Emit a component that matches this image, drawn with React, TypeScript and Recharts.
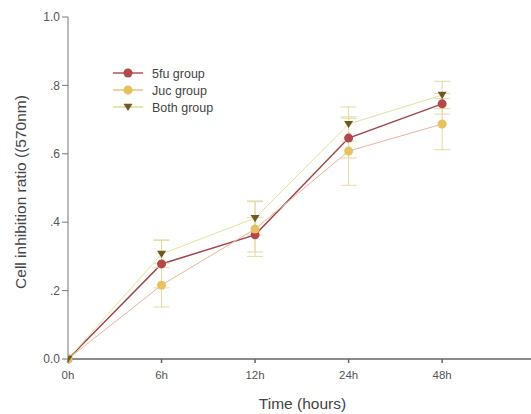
import {
  ErrorBar,
  Line,
  LineChart,
  XAxis,
  YAxis,
} from "recharts";

const hours = ["0h", "6h", "12h", "24h", "48h"];
const fuMean = [0, 0.278, 0.363, 0.646, 0.746];
const fuErr = [0, 0.07, 0.05, 0.058, 0.03];
const jucMean = [0, 0.216, 0.38, 0.608, 0.687];
const jucErr = [0, 0.064, 0.08, 0.1, 0.075];
const bothMean = [0, 0.307, 0.412, 0.687, 0.772];
const bothErr = [0, 0.04, 0.05, 0.05, 0.04];
const yTicks = [0, 0.2, 0.4, 0.6, 0.8, 1.0];

const data = hours.map((h, i) => ({
  idx: i,
  hour: h,
  fu: fuMean[i],
  fuErr: fuErr[i],
  juc: jucMean[i],
  jucErr: jucErr[i],
  both: bothMean[i],
  bothErr: bothErr[i],
}));

const font = "'Liberation Sans', Arial, sans-serif";
const textColor = "#555";
const errColor = "#e8d9a2";

const series = [
  { key: "fu", name: "5fu group", line: "#a3434b", legLine: "#b5505a", mark: "#b2474c", shape: "circle", width: 1.5 },
  { key: "juc", name: "Juc group", line: "#eab29a", legLine: "#e8c27a", mark: "#e6c160", shape: "circle", width: 1 },
  { key: "both", name: "Both group", line: "#dfe49a", legLine: "#d9e08e", mark: "#6e5a22", shape: "triangle", width: 1 },
];

function Marker({ cx, cy, shape, color }: { cx: number; cy: number; shape: string; color: string }) {
  if (shape === "triangle") {
    const s = 4.5;
    return (
      <path
        d={`M${cx - s},${cy - s * 0.7} L${cx + s},${cy - s * 0.7} L${cx},${cy + s * 0.9} Z`}
        fill={color}
      />
    );
  }
  return <circle cx={cx} cy={cy} r={4.5} fill={color} />;
}

// legend drawn over the chart so it doesn't push the plot area around
function LegendBox() {
  return (
    <svg
      width={140}
      height={56}
      style={{ position: "absolute", left: 113, top: 64, overflow: "visible" }}
    >
      {series.map((s, i) => {
        const y = 9 + i * 17;
        return (
          <g key={s.key}>
            <line x1={0} x2={30} y1={y} y2={y} stroke={s.legLine} strokeWidth={1.5} />
            <Marker cx={15} cy={y} shape={s.shape} color={s.mark} />
            <text x={39} y={y + 4.5} fontSize={12.5} fill="#444" fontFamily={font}>
              {s.name}
            </text>
          </g>
        );
      })}
    </svg>
  );
}

export default function App() {
  return (
    <div style={{ position: "absolute", left: 0, top: 0, width: 531, height: 414, background: "#fff" }}>
      <LineChart
        width={531}
        height={414}
        data={data}
        margin={{ top: 17, right: 0, left: 18, bottom: 15 }}
      >
        <XAxis
          dataKey="idx"
          type="number"
          domain={[0, 4.95]}
          ticks={[0, 1, 2, 3, 4]}
          tickFormatter={(v: number) => hours[v]}
          allowDataOverflow
          height={40}
          stroke="#666"
          strokeWidth={1.5}
          tickSize={4}
          tickMargin={8}
          tick={{ fill: textColor, fontSize: 11.5, fontFamily: font }}
          label={{
            content: ({ viewBox }: any) => (
              <text
                x={viewBox.x + viewBox.width / 2 + 3}
                y={viewBox.y + 50}
                textAnchor="middle"
                fontSize={15.5}
                fill="#444"
                fontFamily={font}
              >
                Time (hours)
              </text>
            ),
          }}
        />
        <YAxis
          domain={[0, 1]}
          ticks={yTicks}
          width={50}
          stroke="#777"
          tickSize={6}
          tick={{ fill: textColor, fontSize: 12, fontFamily: font }}
          tickFormatter={(v: number) =>
            v === 0 ? "0.0" : v === 1 ? "1.0" : "." + Math.round(v * 10)
          }
          label={{
            content: ({ viewBox }: any) => {
              const x = viewBox.x + 2;
              const y = 192;
              return (
                <text
                  x={x}
                  y={y}
                  transform={`rotate(-90 ${x} ${y})`}
                  textAnchor="middle"
                  dominantBaseline="central"
                  fontSize={15.5}
                  fill="#444"
                  fontFamily={font}
                >
                  Cell inhibition ratio ((570nm)
                </text>
              );
            },
          }}
        />
        {series.map((s) => (
          <Line
            key={s.key}
            dataKey={s.key}
            name={s.name}
            stroke={s.line}
            strokeWidth={s.width}
            isAnimationActive={false}
            dot={(p: any) => (
              <Marker key={`${s.key}-${p.index}`} cx={p.cx} cy={p.cy} shape={s.shape} color={s.mark} />
            )}
            activeDot={false}
          >
            <ErrorBar
              dataKey={`${s.key}Err`}
              direction="y"
              width={8}
              stroke={errColor}
              strokeWidth={1}
            />
          </Line>
        ))}
      </LineChart>
      <LegendBox />
    </div>
  );
}
